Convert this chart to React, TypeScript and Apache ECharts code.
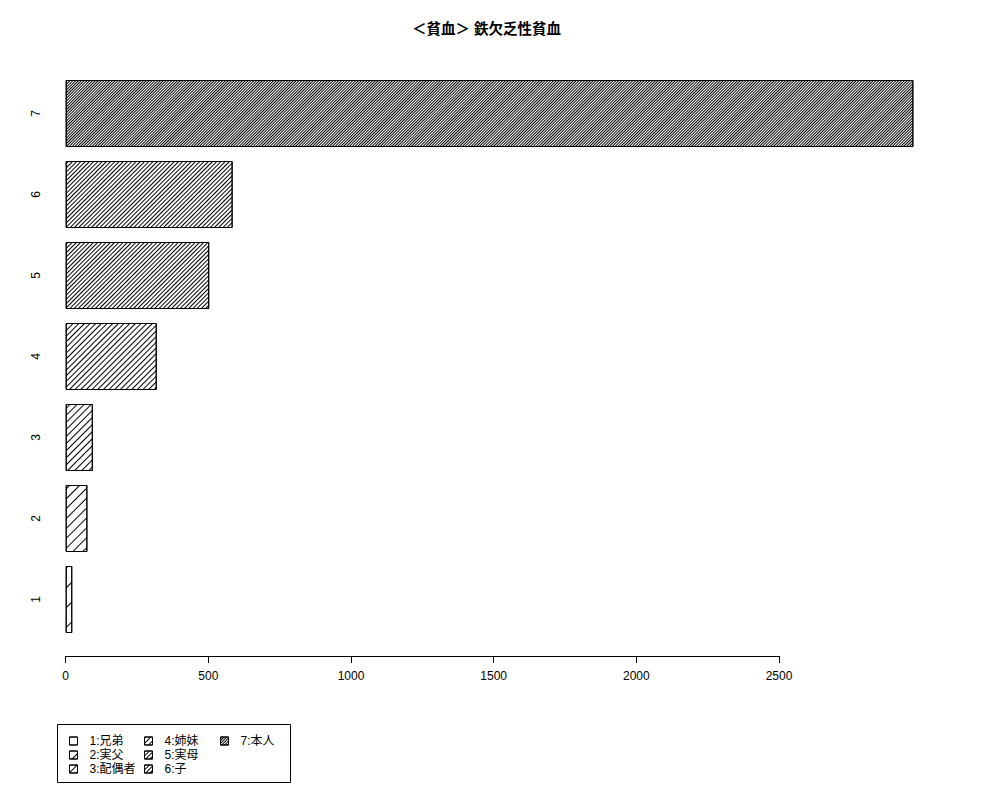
import { useEffect, useRef } from 'react';
import * as echarts from 'echarts';

const categories = ['1', '2', '3', '4', '5', '6', '7'];
const relations = ['1:兄弟', '2:実父', '3:配偶者', '4:姉妹', '5:実母', '6:子', '7:本人'];
const counts = [23, 76, 95, 319, 503, 585, 2971];
const xTicks = [0, 500, 1000, 1500, 2000, 2500];

// R-style hatching: gap between 1px lines grows sparser for low categories
const hatchGaps = [13, 6, 4, 3, 2, 2, 1];

const FONT = '"Liberation Sans", "Noto Sans CJK JP", sans-serif';
const PX_PER_UNIT = 713.3 / 2500;

export default function App() {
  const chartRef = useRef(null);

  useEffect(() => {
    document.body.style.margin = '0';
    const chart = echarts.init(chartRef.current, null, { renderer: 'svg' });

    const series = relations.map((name, i) => ({
      name,
      type: 'bar',
      stack: 'all',
      xAxisIndex: 0,
      yAxisIndex: 0,
      barWidth: 67,
      data: categories.map((_, j) => (j === i ? counts[i] : '-')),
      itemStyle: {
        color: '#fff',
        borderColor: '#000',
        borderWidth: 1,
        decal: {
          symbol: 'rect',
          symbolSize: 1,
          color: '#000',
          dashArrayX: [1, 0],
          dashArrayY: [1, hatchGaps[i]],
          rotation: -Math.PI / 4,
        },
      },
    }));

    const legendCol = (data: string[], left: number) => ({
      orient: 'vertical',
      left,
      top: 735,
      padding: 0,
      data,
      icon: 'rect',
      itemWidth: 8,
      itemHeight: 8,
      itemGap: 2,
      selectedMode: false,
      textStyle: { fontFamily: FONT, fontSize: 12, color: '#000', padding: [0, 0, 0, 7] },
      itemStyle: { borderColor: '#000', borderWidth: 1 },
    });

    const option = {
      animation: false,
      title: {
        text: '＜貧血＞ 鉄欠乏性貧血',
        left: 407,
        top: 17,
        textStyle: { fontFamily: FONT, fontSize: 14.5, fontWeight: 'bold', color: '#000' },
      },
      legend: [
        legendCol(relations.slice(0, 3), 69),
        legendCol(relations.slice(3, 6), 144),
        legendCol(relations.slice(6), 220),
      ],
      grid: [
        { left: 65.7, top: 73, width: 3000 * PX_PER_UNIT, height: 567 },
        { left: 65.7, top: 655, width: 2500 * PX_PER_UNIT, height: 1 },
      ],
      xAxis: [
        { type: 'value', gridIndex: 0, min: 0, max: 3000, show: false },
        {
          type: 'value',
          gridIndex: 1,
          min: xTicks[0],
          max: xTicks[xTicks.length - 1],
          interval: 500,
          axisLine: { show: true, lineStyle: { color: '#000', width: 1 } },
          axisTick: { show: true, length: 7, lineStyle: { color: '#000' } },
          axisLabel: {
            fontFamily: FONT,
            fontSize: 12,
            color: '#000',
            margin: 14,
            formatter: (v: number) => String(v),
          },
          splitLine: { show: false },
        },
      ],
      yAxis: [
        {
          type: 'category',
          gridIndex: 0,
          data: categories,
          axisLine: { show: false },
          axisTick: { show: false },
          axisLabel: { rotate: 90, fontFamily: FONT, fontSize: 12, color: '#000', margin: 24 },
        },
        { type: 'category', gridIndex: 1, show: false, data: [''] },
      ],
      graphic: [
        {
          type: 'rect',
          shape: { x: 57.5, y: 724.5, width: 233, height: 58 },
          style: { fill: 'none', stroke: '#000', lineWidth: 1 },
          silent: true,
        },
      ],
      series,
    };

    chart.setOption(option);
    return () => {
      chart.dispose();
    };
  }, []);

  return <div ref={chartRef} style={{ width: '1000px', height: '800px' }} />;
}
